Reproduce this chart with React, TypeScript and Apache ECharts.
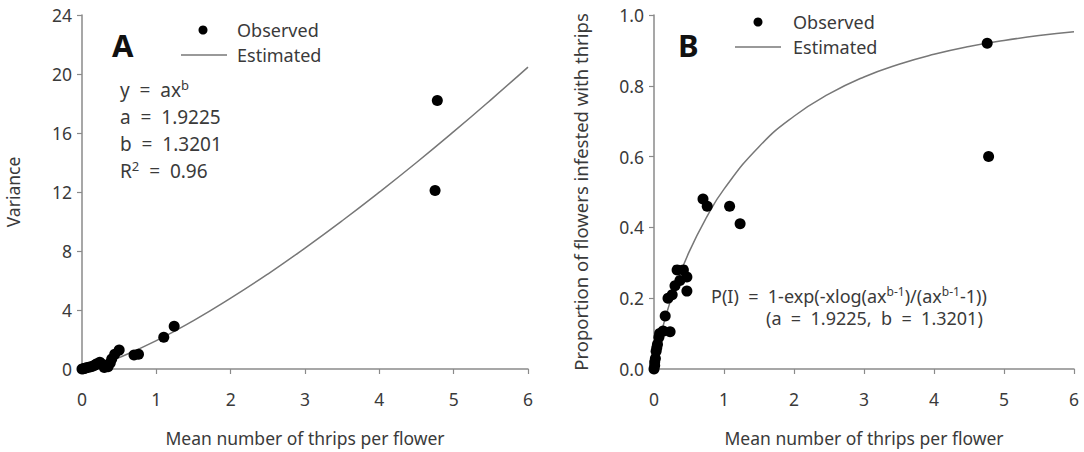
import React, { useEffect, useRef } from "react";
import * as echarts from "echarts";

// Panel A: mean vs variance (observed)
const obsA: [number, number][] = [
  [0, 0], [0.02, 0.02], [0.04, 0.05], [0.06, 0.08], [0.09, 0.12], [0.12, 0.15],
  [0.15, 0.2], [0.18, 0.28], [0.2, 0.35], [0.24, 0.45], [0.28, 0.3], [0.3, 0.1],
  [0.32, 0.2], [0.35, 0.15], [0.38, 0.4], [0.4, 0.68], [0.44, 1.0], [0.5, 1.28],
  [0.7, 0.95], [0.76, 1.0], [1.1, 2.16], [1.24, 2.9], [4.75, 12.1], [4.78, 18.2],
];
// Panel A: estimated curve
const estAx = [0, 0.1, 0.25, 0.5, 1, 1.5, 2, 2.5, 3, 3.5, 4, 4.5, 5, 5.5, 6];
const estAy = [0, 0.09, 0.31, 0.77, 1.92, 3.28, 4.8, 6.44, 8.2, 10.05, 11.99, 14.0, 16.09, 18.25, 20.47];

// Panel B: mean vs proportion infested (observed)
const obsB: [number, number][] = [
  [0, 0], [0.01, 0.01], [0.01, 0.02], [0.02, 0.03], [0.03, 0.05], [0.04, 0.06],
  [0.05, 0.07], [0.07, 0.09], [0.08, 0.1], [0.13, 0.107], [0.16, 0.15], [0.23, 0.105],
  [0.2, 0.2], [0.26, 0.21], [0.3, 0.235], [0.37, 0.25], [0.33, 0.28], [0.42, 0.28],
  [0.47, 0.26], [0.47, 0.22], [0.7, 0.48], [0.76, 0.46], [1.08, 0.46], [1.23, 0.41],
  [4.76, 0.92], [4.78, 0.6],
];
const estBx = [0, 0.02, 0.05, 0.1, 0.2, 0.3, 0.5, 0.75, 1, 1.5, 2, 2.5, 3, 3.5, 4, 4.5, 5, 5.5, 6];
const estBy = [0, 0.026, 0.056, 0.099, 0.17, 0.23, 0.33, 0.428, 0.508, 0.628, 0.714, 0.777, 0.825, 0.861, 0.889, 0.911, 0.928, 0.942, 0.953];

const xTicks = [0, 1, 2, 3, 4, 5, 6];
const yTicksA = [0, 4, 8, 12, 16, 20, 24];
const yTicksB = [0, 0.2, 0.4, 0.6, 0.8, 1.0];

const FONT = "'Noto Sans', sans-serif";
const AXIS_COLOR = "#8a8a8a";
const TEXT_COLOR = "#3a3a3a";

export default function App() {
  const ref = useRef<HTMLDivElement>(null);
  useEffect(() => {
    if (!ref.current) return;
    const chart = echarts.init(ref.current, undefined, { renderer: "svg" });
    const axisCommon = {
      axisLine: { show: true, lineStyle: { color: AXIS_COLOR, width: 1.5 } },
      axisTick: { show: true, inside: false, length: 5, lineStyle: { color: AXIS_COLOR, width: 1.2 } },
      splitLine: { show: false },
      axisLabel: { color: TEXT_COLOR, fontSize: 17.5, fontFamily: FONT },
      nameTextStyle: { color: TEXT_COLOR, fontSize: 17.5, fontFamily: FONT },
      nameLocation: "middle" as const,
    };
    const legend = (mx: number, lx: number, y1: number, y2: number, tx: number) => [
      { type: "circle", shape: { cx: mx, cy: y1, r: 4.5 }, style: { fill: "#000" } },
      { type: "text", x: tx, y: y1, style: { text: "Observed", fill: TEXT_COLOR, font: `18px ${FONT}`, verticalAlign: "middle" } },
      { type: "line", shape: { x1: lx, y1: y2, x2: lx + 46, y2: y2 }, style: { stroke: "#777", lineWidth: 1.5 } },
      { type: "text", x: tx, y: y2, style: { text: "Estimated", fill: TEXT_COLOR, font: `18px ${FONT}`, verticalAlign: "middle" } },
    ];
    const sup = { fontSize: 13, padding: [0, 0, 9, 0], fill: TEXT_COLOR, fontFamily: FONT };
    chart.setOption({
      animation: false,
      grid: [
        { left: 82, right: 556, top: 15, bottom: 83, containLabel: false },
        { left: 654, right: 10, top: 15, bottom: 82, containLabel: false },
      ],
      xAxis: [0, 1].map((i) => ({
        ...axisCommon,
        type: "value",
        gridIndex: i,
        min: xTicks[0],
        max: xTicks[xTicks.length - 1],
        interval: 1,
        name: "Mean number of thrips per flower",
        nameGap: 60,
        axisLabel: { ...axisCommon.axisLabel, margin: 21 },
      })),
      yAxis: [
        {
          ...axisCommon,
          type: "value",
          gridIndex: 0,
          min: yTicksA[0],
          max: yTicksA[yTicksA.length - 1],
          interval: 4,
          name: "Variance",
          nameGap: 60,
          axisLabel: { ...axisCommon.axisLabel, margin: 10 },
        },
        {
          ...axisCommon,
          type: "value",
          gridIndex: 1,
          min: yTicksB[0],
          max: yTicksB[yTicksB.length - 1],
          interval: 0.2,
          name: "Proportion of flowers infested with thrips",
          nameGap: 64,
          nameTextStyle: { ...axisCommon.nameTextStyle, fontSize: 18.5 },
          axisLabel: { ...axisCommon.axisLabel, margin: 10, formatter: (v: number) => v.toFixed(1) },
        },
      ],
      series: [
        {
          type: "line",
          xAxisIndex: 0,
          yAxisIndex: 0,
          data: estAx.map((x, i) => [x, estAy[i]]),
          smooth: true,
          showSymbol: false,
          lineStyle: { color: "#777", width: 1.5 },
          z: 1,
        },
        {
          type: "scatter",
          xAxisIndex: 0,
          yAxisIndex: 0,
          data: obsA,
          symbolSize: 11,
          itemStyle: { color: "#000", opacity: 1 },
          clip: false,
          z: 3,
        },
        {
          type: "line",
          xAxisIndex: 1,
          yAxisIndex: 1,
          data: estBx.map((x, i) => [x, estBy[i]]),
          smooth: true,
          showSymbol: false,
          lineStyle: { color: "#777", width: 1.5 },
          z: 1,
        },
        {
          type: "scatter",
          xAxisIndex: 1,
          yAxisIndex: 1,
          data: obsB,
          symbolSize: 11,
          itemStyle: { color: "#000", opacity: 1 },
          clip: false,
          z: 3,
        },
      ],
      graphic: [
        { type: "text", x: 112, y: 45, style: { text: "A", fill: "#111", font: `bold 31px ${FONT}`, verticalAlign: "middle" } },
        { type: "text", x: 678, y: 45, style: { text: "B", fill: "#111", font: `bold 31px ${FONT}`, verticalAlign: "middle" } },
        ...legend(203, 181, 30, 55, 237),
        ...legend(758, 735, 22, 47, 793),
        {
          type: "text",
          x: 120,
          y: 76,
          style: {
            text: "y  =  ax{sup|b}\na  =  1.9225\nb  =  1.3201\nR{sup|2}  =  0.96",
            fill: TEXT_COLOR,
            font: `19px ${FONT}`,
            lineHeight: 27,
            rich: { sup },
          },
        },
        {
          type: "text",
          x: 711,
          y: 296,
          style: {
            text: "P(I)  =  1-exp(-xlog(ax{sup|b-1})/(ax{sup|b-1}-1))",
            fill: TEXT_COLOR,
            font: `18px ${FONT}`,
            verticalAlign: "middle",
            rich: { sup: { ...sup, fontSize: 12 } },
          },
        },
        {
          type: "text",
          x: 766,
          y: 318,
          style: { text: "(a  =  1.9225,  b  =  1.3201)", fill: TEXT_COLOR, font: `18px ${FONT}`, verticalAlign: "middle" },
        },
      ],
    });
    return () => chart.dispose();
  }, []);
  return <div ref={ref} style={{ width: 1084, height: 452, position: "absolute", left: 0, top: 0 }} />;
}
